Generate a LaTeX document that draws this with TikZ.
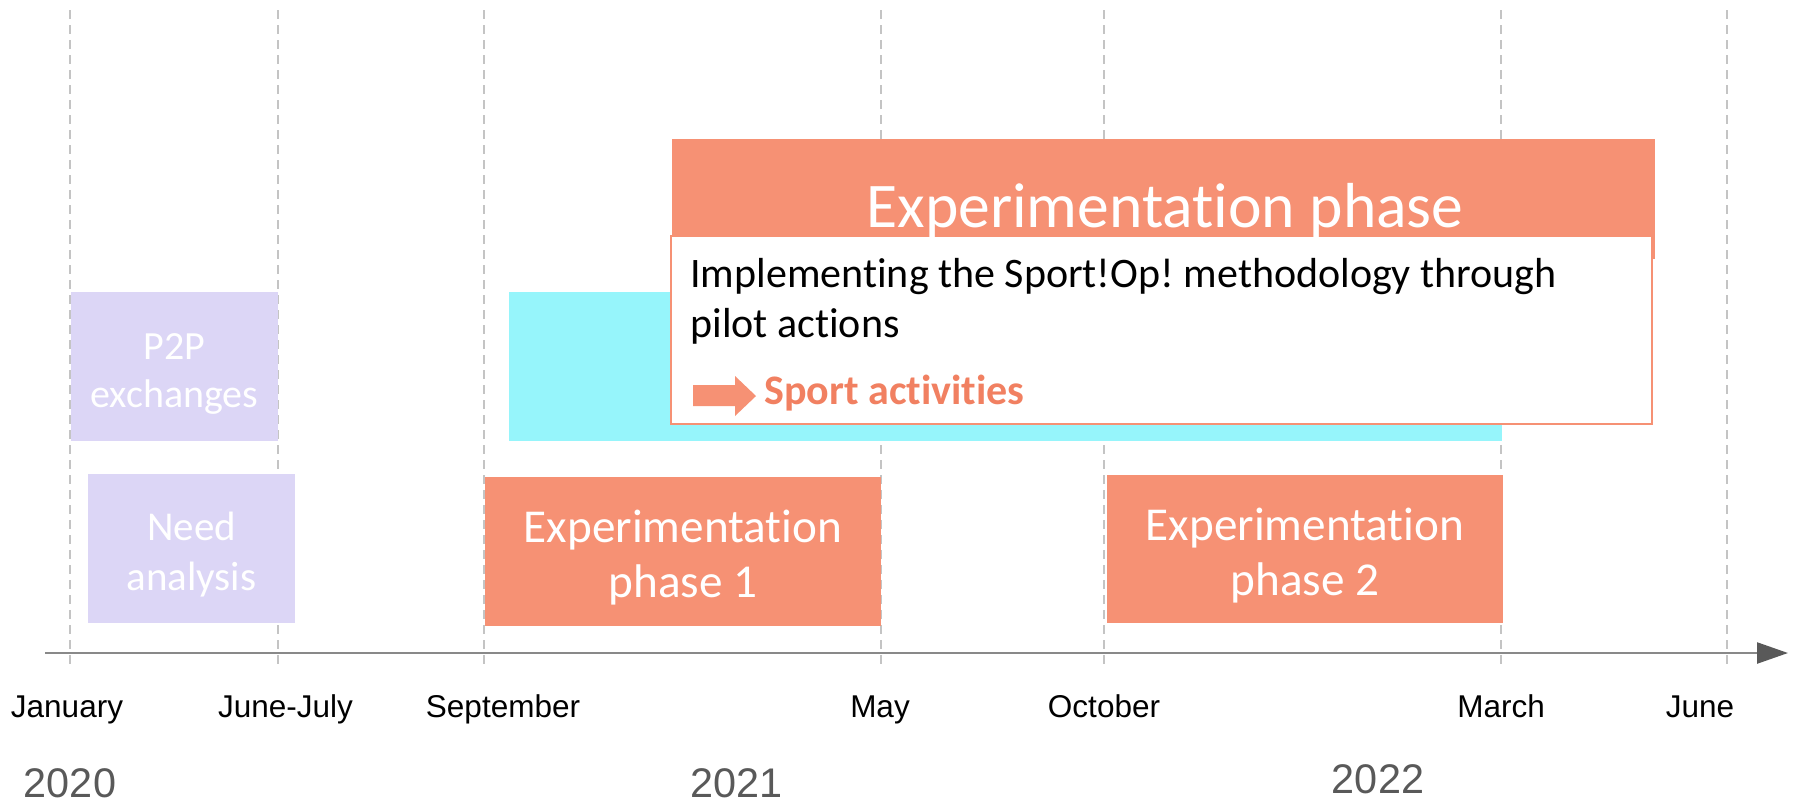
\documentclass[tikz,border=0pt]{standalone}
\usepackage{fontspec}
\setmainfont{Carlito}[Ligatures=NoCommon]
\newfontfamily\arialf{Liberation Sans}
\usetikzlibrary{arrows.meta}
\frenchspacing
\definecolor{orng}{RGB}{246,145,116}
\definecolor{orngtxt}{RGB}{241,128,97}
\definecolor{cyanbox}{RGB}{150,245,251}
\definecolor{lavbox}{RGB}{220,214,246}
\definecolor{gridgray}{RGB}{196,196,196}
\definecolor{axisgray}{RGB}{137,137,137}
\definecolor{headgray}{RGB}{89,89,89}
\definecolor{yeargray}{RGB}{89,89,89}
\begin{document}
\begin{tikzpicture}[x=0.5pt,y=-0.5pt,
  boxbase/.style={inner sep=0pt, outer sep=0pt, rectangle},
  lav/.style={boxbase, fill=lavbox},
  orbox/.style={boxbase, fill=orng},
  cybox/.style={boxbase, fill=cyanbox},
  whbox/.style={boxbase, fill=white, draw=orng, line width=1pt},
  wtxt/.style={inner sep=0pt, text=white, align=center, anchor=base},
  month/.style={inner sep=0pt, anchor=base, font=\arialf\fontsize{15.75pt}{18pt}\selectfont, text=black},
  year/.style={inner sep=0pt, anchor=base, font=\arialf\fontsize{20.7pt}{24pt}\selectfont, text=yeargray},
  gridline/.style={draw=gridgray, line width=1pt, dash pattern=on 4.5pt off 3pt},
  axisline/.style={draw=axisgray, line width=1.2pt, -{Triangle[length=15.5pt,width=10.5pt,color=headgray]}}
]
\useasboundingbox (0,0) rectangle (1798,805);

% vertical dashed grid lines
\foreach \xx in {70,278,484,881,1104,1501,1727}
  \draw[gridline] (\xx,10) -- (\xx,668);

% axis
\coordinate (axstart) at (45,653);
\coordinate (axend) at (1788,653);
\draw[axisline] (axstart) -- (axend);

% boxes
\node[cybox, minimum width=496.5pt, minimum height=74.5pt] (cyan) at (1005.5,366.5) {};
\node[orbox, minimum width=491.5pt, minimum height=60pt] (bigphase) at (1163.5,199) {};
\node[whbox, minimum width=490.5pt, minimum height=94pt] (desc) at (1161,330) {};
\node[lav, minimum width=103.5pt, minimum height=74.5pt] (p2p) at (174.5,366.5) {};
\node[lav, minimum width=103.5pt, minimum height=74.5pt] (need) at (191.5,548.5) {};
\node[orbox, minimum width=198pt, minimum height=74.5pt] (ph1) at (683,551.5) {};
\node[orbox, minimum width=198pt, minimum height=74pt] (ph2) at (1305,549) {};

% block arrow
\fill[orng] (693,385) -- (735,385) -- (735,376) -- (756,396) -- (735,416) -- (735,406) -- (693,406) -- cycle;

% texts (multi-line nodes: base = last line baseline)
\node[wtxt, font=\fontsize{31.8pt}{36pt}\selectfont] (bigphaset) at (1165,227) {Experimentation phase};
\node[inner sep=0pt, anchor=base west, align=left, font=\fontsize{21pt}{25pt}\selectfont] (desct) at (690,337) {Implementing the Sport!Op! methodology through\\pilot actions};
\node[inner sep=0pt, anchor=base west, text=orngtxt, font=\bfseries\fontsize{21pt}{25pt}\selectfont] (sportt) at (764,404) {Sport activities};
\node[wtxt, font=\fontsize{20pt}{24pt}\selectfont] (p2pt) at (174.5,407) {P2P\\exchanges};
\node[wtxt, font=\fontsize{20.5pt}{25pt}\selectfont] (needt) at (191.5,590) {Need\\analysis};
\node[wtxt, font=\fontsize{23.6pt}{27.5pt}\selectfont] (ph1t) at (683,597) {Experimentation\\phase 1};
\node[wtxt, font=\fontsize{23.6pt}{27.5pt}\selectfont] (ph2t) at (1305,595) {Experimentation\\phase 2};

% month labels
\node[month] (mjan) at (67,717) {January};
\node[month] (mjun) at (285.6,717) {June-July};
\node[month] (msep) at (503,717) {September};
\node[month] (mmay) at (880,717) {May};
\node[month] (moct) at (1104,717) {October};
\node[month] (mmar) at (1501,717) {March};
\node[month] (mjune) at (1700,717) {June};

% years
\node[year] (y2020) at (70,797) {2020};
\node[year] (y2021) at (736.5,797) {2021};
\node[year] (y2022) at (1378,793) {2022};
\end{tikzpicture}
\end{document}
